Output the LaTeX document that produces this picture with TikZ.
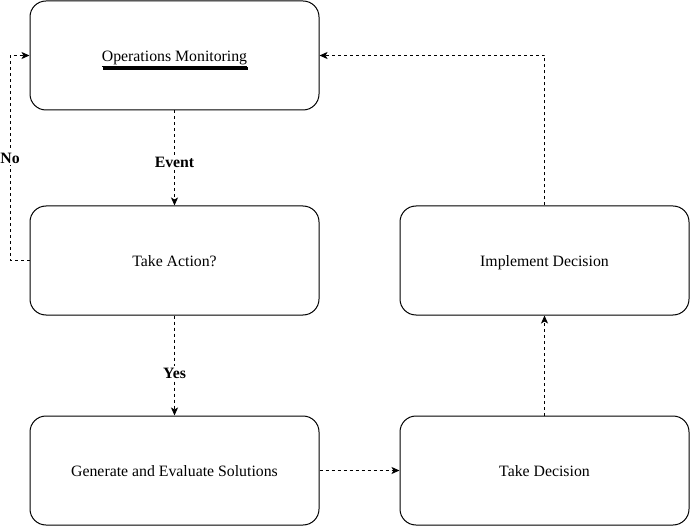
\documentclass[tikz,border=0pt]{standalone}
\usepackage{fontspec}
\setmainfont{Liberation Serif}
\usetikzlibrary{arrows.meta}
\pgfdeclarelayer{edgelayer}
\pgfdeclarelayer{nodelayer}
\pgfsetlayers{edgelayer,nodelayer,main}
\tikzset{font=\fontsize{15.8}{19}\selectfont}
\tikzstyle{none}=[inner sep=0pt]
\tikzstyle{stage}=[draw,fill=white,line width=1pt,rounded corners=16pt,minimum width=289pt,minimum height=109pt,inner sep=0pt,text height=12pt,text depth=0pt]
\tikzstyle{flow}=[line width=0.9pt,dash pattern=on 3pt off 3pt,-{Stealth[length=8pt,width=7pt,inset=2pt]}]
\tikzstyle{tag}=[fill=white,inner sep=2pt,font=\fontsize{15.8}{19}\selectfont\bfseries]

\begin{document}
\begin{tikzpicture}[x=1pt,y=-1pt]
	\useasboundingbox (0,0) rectangle (690,526);
	\begin{pgfonlayer}{nodelayer}
		\node [style=stage] (0) at (174.5, 55.5) {\underline{Operations Monitoring}};
		\node [style=stage] (1) at (174.5, 260.5) {Take Action?};
		\node [style=stage] (2) at (174.5, 470.5) {Generate and Evaluate Solutions};
		\node [style=stage] (3) at (544.5, 470.5) {Take Decision};
		\node [style=stage] (4) at (544.5, 260.5) {Implement Decision};
		\coordinate (5) at (10, 260.5);
		\coordinate (6) at (10, 55.5);
		\coordinate (7) at (103, 68.5);
		\coordinate (8) at (248, 68.5);
	\end{pgfonlayer}
	\begin{pgfonlayer}{edgelayer}
		\draw [style=flow] (0.south) to node [style=tag, pos=0.55] {Event} (1.north);
		\draw [style=flow] (1.west) -- (5) -- node [style=tag] {No} (6) -- (0.west);
		\draw [style=flow] (1.south) to node [style=tag, pos=0.58] {Yes} (2.north);
		\draw [style=flow] (2.east) to (3.west);
		\draw [style=flow] (3.north) to (4.south);
		\draw [style=flow] (4.north) |- (0.east);
	\end{pgfonlayer}
	\draw [line width=2.6pt] (7) -- (8);
\end{tikzpicture}
\end{document}
